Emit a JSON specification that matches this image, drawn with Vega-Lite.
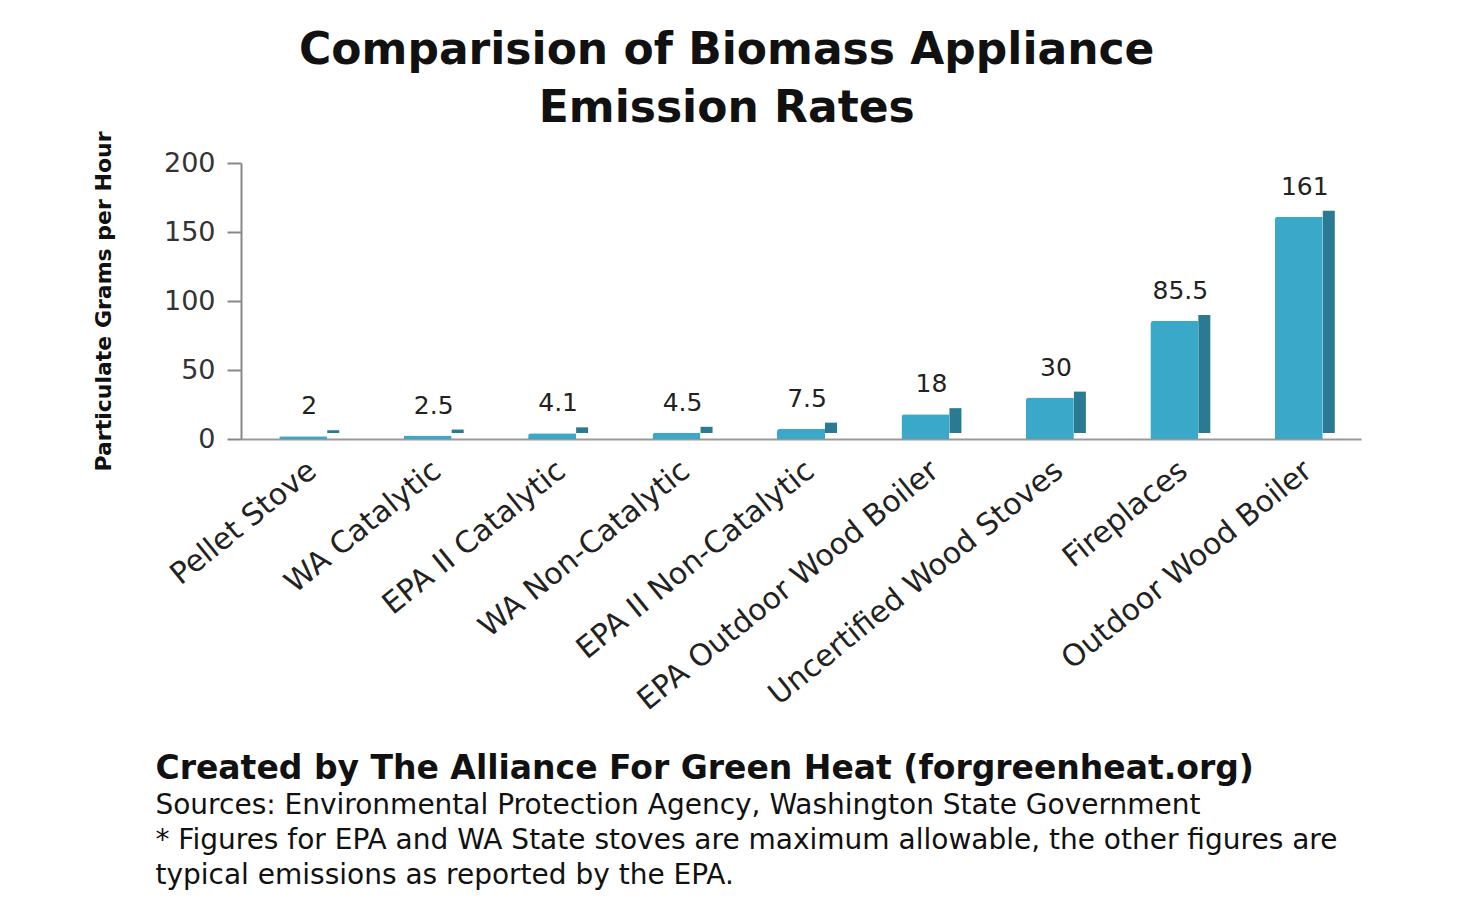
{
  "$schema": "https://vega.github.io/schema/vega-lite/v6.json",
  "background": "white",
  "padding": {"left": 92, "top": 28, "right": 10, "bottom": 10},
  "title": {
    "text": ["Comparision of Biomass Appliance", "Emission Rates"],
    "font": "DejaVu Sans",
    "fontSize": 44,
    "fontWeight": "bold",
    "color": "#111111",
    "lineHeight": 58,
    "anchor": "middle",
    "offset": 0
  },
  "config": {"view": {"stroke": null}},
  "vconcat": [
    {
      "width": 1120,
      "height": 276,
      "title": {
        "text": "Created by The Alliance For Green Heat  (forgreenheat.org)",
        "subtitle": [
          "Sources: Environmental Protection Agency, Washington State Government",
          "* Figures for EPA and WA State stoves are maximum allowable, the other figures are",
          "typical emissions as reported by the EPA."
        ],
        "orient": "bottom",
        "anchor": "start",
        "frame": "bounds",
        "font": "DejaVu Sans",
        "fontSize": 33,
        "fontWeight": "bold",
        "color": "#111111",
        "subtitleFont": "DejaVu Sans",
        "subtitleFontSize": 28,
        "subtitleColor": "#111111",
        "subtitleLineHeight": 35,
        "subtitlePadding": 6,
        "offset": 38,
        "dx": 63
      },
      "data": {
        "values": [
          {"appliance": "Pellet Stove", "rate": 2, "label": "2"},
          {"appliance": "WA Catalytic", "rate": 2.5, "label": "2.5"},
          {"appliance": "EPA II Catalytic", "rate": 4.1, "label": "4.1"},
          {"appliance": "WA Non-Catalytic", "rate": 4.5, "label": "4.5"},
          {"appliance": "EPA II Non-Catalytic", "rate": 7.5, "label": "7.5"},
          {"appliance": "EPA Outdoor Wood Boiler", "rate": 18, "label": "18"},
          {"appliance": "Uncertified Wood Stoves", "rate": 30, "label": "30"},
          {"appliance": "Fireplaces", "rate": 85.5, "label": "85.5"},
          {"appliance": "Outdoor Wood Boiler", "rate": 161, "label": "161"}
        ]
      },
      "encoding": {
        "x": {
          "field": "appliance",
          "type": "nominal",
          "sort": null,
          "title": null,
          "axis": {
            "labelAngle": -39,
            "labelFont": "DejaVu Sans",
            "labelFontSize": 30,
            "labelColor": "#222222",
            "labelPadding": 16,
            "labelLimit": 500,
            "ticks": false,
            "domainColor": "#999999",
            "domainWidth": 2
          }
        },
        "y": {
          "field": "rate",
          "type": "quantitative",
          "scale": {"domain": [0, 200]},
          "title": "Particulate Grams per Hour",
          "axis": {
            "values": [0, 50, 100, 150, 200],
            "grid": false,
            "titleFont": "DejaVu Sans",
            "titleFontSize": 22,
            "titleFontWeight": "bold",
            "titleColor": "#111111",
            "titlePadding": 48,
            "labelFont": "DejaVu Sans",
            "labelFontSize": 27,
            "labelColor": "#333333",
            "labelPadding": 12,
            "domainColor": "#888888",
            "domainWidth": 2,
            "tickColor": "#888888",
            "tickSize": 14,
            "tickWidth": 2
          }
        }
      },
      "layer": [
        {
          "mark": {"type": "bar", "width": 12, "xOffset": 30, "yOffset": -6, "color": "#2a7a93"}
        },
        {
          "mark": {"type": "bar", "width": 48, "color": "#3aa9c9", "cornerRadiusTopLeft": 3}
        },
        {
          "mark": {"type": "text", "dy": -30, "xOffset": 6, "font": "DejaVu Sans", "fontSize": 25, "color": "#222222"},
          "encoding": {"text": {"field": "label"}}
        }
      ]
    }
  ]
}
